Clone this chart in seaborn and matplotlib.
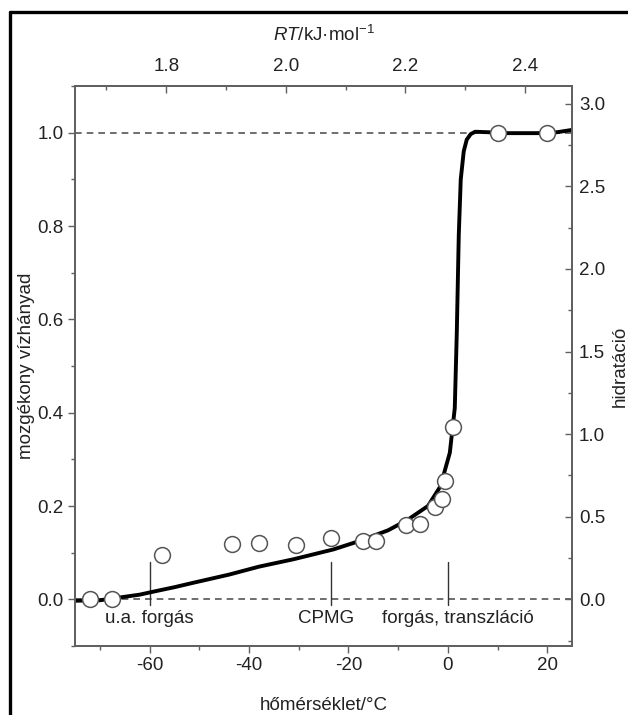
import numpy as np
import pandas as pd
import seaborn as sns
import matplotlib.pyplot as plt
from matplotlib.lines import Line2D
from matplotlib.ticker import MultipleLocator, FixedLocator

sns.set_style("ticks")
plt.rcParams['font.family'] = ['Liberation Sans', 'DejaVu Sans']
plt.rcParams['mathtext.fontset'] = 'custom'
plt.rcParams['mathtext.rm'] = 'Liberation Sans'
plt.rcParams['mathtext.it'] = 'Liberation Sans:italic'
plt.rcParams['axes.unicode_minus'] = False

# measured points (open circles)
temp_pts = [-72, -67.5, -57.5, -43.5, -38, -30.5, -23.5, -17, -14.5,
            -8.5, -5.5, -2.5, -1.2, -0.5, 1, 10, 20]
frac_pts = [0.0, 0.0, 0.095, 0.118, 0.12, 0.117, 0.132, 0.124, 0.125,
            0.16, 0.162, 0.197, 0.215, 0.253, 0.37, 1.0, 1.0]

# model curve (thick line)
temp_fit = [-75, -70, -66, -62, -59, -55, -51, -44, -38, -31, -23, -17.5,
            -12, -8, -4, -1.5, 0.4, 1.4, 1.8, 2.2, 2.6, 3.2, 3.8, 4.6,
            5.5, 8, 12, 18, 22, 25]
frac_fit = [-0.003, -0.002, 0.004, 0.010, 0.017, 0.026, 0.036, 0.053,
            0.070, 0.086, 0.107, 0.126, 0.148, 0.171, 0.200, 0.242, 0.314,
            0.41, 0.57, 0.78, 0.90, 0.96, 0.985, 0.997, 1.002, 1.001,
            0.999, 0.999, 1.001, 1.006]

# motion regimes marked on the temperature axis
marker_t = [-60, -23.5, 0]
marker_lbl = ["u.a. forgás", "CPMG", "forgás, transzláció"]
marker_lbl_x = [-60, -24.5, 2]

hyd_per_frac = 2.825
spine_c = "#606060"
txt_c = "#222222"
fs = 13.5

fit = pd.DataFrame({"t": temp_fit, "f": frac_fit})
pts = pd.DataFrame({"t": temp_pts, "f": frac_pts})

fig = plt.figure(figsize=(6.28, 7.15), dpi=100)
ax = fig.add_axes([0.1194, 0.0965, 0.7916, 0.7832])

ax.axhline(0, color="#555555", ls=(0, (4, 3)), lw=1.2, zorder=1)
ax.axhline(1, color="#555555", ls=(0, (4, 3)), lw=1.2, zorder=1)
for t in marker_t:
    ax.plot([t, t], [-0.012, 0.079], color="#333333", lw=1, zorder=1)
for x, s in zip(marker_lbl_x, marker_lbl):
    ax.text(x, -0.04, s, ha="center", va="center", fontsize=fs, color=txt_c)

sns.lineplot(data=fit, x="t", y="f", color="black", lw=2.8, ax=ax,
             zorder=2, sort=False)
sns.scatterplot(data=pts, x="t", y="f", ax=ax, s=130, facecolor="white",
                edgecolor="#555555", linewidth=1.1, zorder=3)

ax.set_xlim(-75, 25)
ax.set_ylim(-0.1, 1.1)
ax.xaxis.set_major_locator(MultipleLocator(20))
ax.xaxis.set_minor_locator(MultipleLocator(10))
ax.yaxis.set_major_locator(FixedLocator([0, 0.2, 0.4, 0.6, 0.8, 1.0]))
ax.yaxis.set_minor_locator(MultipleLocator(0.1))
ax.set_yticklabels(["0.0", "0.2", "0.4", "0.6", "0.8", "1.0"])
ax.tick_params(which="major", direction="out", length=5, width=1, color=spine_c,
               labelsize=fs, labelcolor=txt_c, pad=3)
ax.tick_params(which="minor", direction="out", length=3, width=1, color=spine_c)
ax.set_xlabel("hőmérséklet/°C", fontsize=fs, color=txt_c, labelpad=16.5)
ax.set_ylabel("mozgékony vízhányad", fontsize=fs, color=txt_c, labelpad=2)

ax2 = ax.twinx()
ax2.set_ylim(-0.1 * hyd_per_frac, 1.1 * hyd_per_frac)
ax2.yaxis.set_major_locator(MultipleLocator(0.5))
ax2.yaxis.set_minor_locator(MultipleLocator(0.25))
ax2.yaxis.set_major_formatter(plt.FormatStrFormatter("%.1f"))
ax2.tick_params(which="major", direction="in", length=5, width=1, color=spine_c,
                labelsize=fs, labelcolor=txt_c, pad=5)
ax2.tick_params(which="minor", direction="in", length=3, width=1, color=spine_c)
ax2.set_ylabel("hidratáció", fontsize=fs, color=txt_c, labelpad=5)

R = 8.314e-3
top = ax.secondary_xaxis("top", functions=(lambda t: R * (t + 273.15),
                                           lambda rt: rt / R - 273.15))
top.xaxis.set_major_locator(FixedLocator([1.8, 2.0, 2.2, 2.4]))
top.xaxis.set_minor_locator(FixedLocator([1.7, 1.9, 2.1, 2.3]))
top.xaxis.set_major_formatter(plt.FormatStrFormatter("%.1f"))
top.tick_params(which="major", direction="in", length=5, width=1, color=spine_c,
                labelsize=fs, labelcolor=txt_c, pad=8)
top.tick_params(which="minor", direction="in", length=3, width=1, color=spine_c)
top.set_xlabel(r"$RT$/kJ·mol$^{-1}$", fontsize=fs, color=txt_c, labelpad=12)

for a in (ax, ax2):
    for sp in a.spines.values():
        sp.set_visible(True)
        sp.set_color(spine_c)
        sp.set_linewidth(1.3)
top.spines["top"].set_color(spine_c)
top.spines["top"].set_linewidth(1.3)

# outer frame
fig.add_artist(Line2D([10 / 628, 1.0], [1 - 12 / 715, 1 - 12 / 715],
                      color="black", lw=2.4, transform=fig.transFigure))
fig.add_artist(Line2D([10 / 628, 10 / 628], [0.0, 1 - 12 / 715],
                      color="black", lw=2.4, transform=fig.transFigure))

fig.savefig("out.png", dpi=100)
